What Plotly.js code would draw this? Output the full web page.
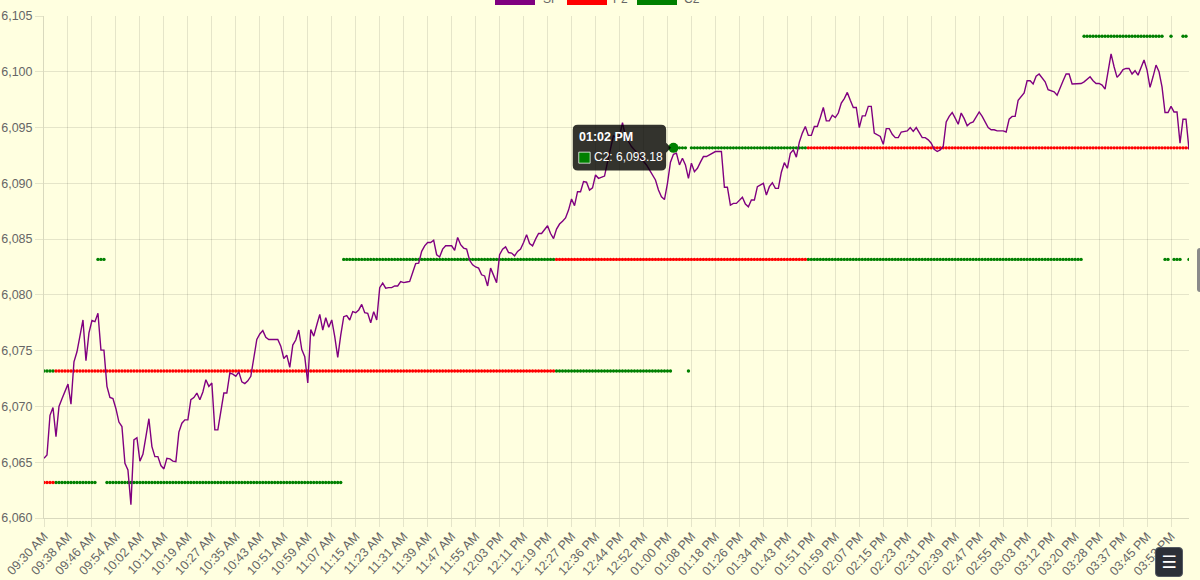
<!DOCTYPE html>
<html><head><meta charset="utf-8">
<script src="https://cdn.plot.ly/plotly-3.0.1.min.js"></script>
<style>
html,body{margin:0;padding:0;background:#FFFFE0;overflow:hidden}
#chart{width:1200px;height:580px}
#menu{position:absolute;left:1155px;top:547px;width:28px;height:30px;background:#2c3038;border:1px solid #555a62;box-sizing:border-box;border-radius:4px;color:#fff;font:17px 'DejaVu Sans',sans-serif;text-align:center;line-height:28px}
#thumb{position:absolute;left:1197px;top:248px;width:6px;height:44px;background:#8a8a8a;border-radius:3px}
</style></head><body>
<div id="chart"></div><div id="menu">☰</div><div id="thumb"></div>
<script>
const tickLabels = ['09:30 AM','09:38 AM','09:46 AM','09:54 AM','10:02 AM','10:11 AM','10:19 AM','10:27 AM','10:35 AM','10:43 AM','10:51 AM','10:59 AM','11:07 AM','11:15 AM','11:23 AM','11:31 AM','11:39 AM','11:47 AM','11:55 AM','12:03 PM','12:11 PM','12:19 PM','12:27 PM','12:36 PM','12:44 PM','12:52 PM','01:00 PM','01:08 PM','01:18 PM','01:26 PM','01:34 PM','01:43 PM','01:51 PM','01:59 PM','02:07 PM','02:15 PM','02:23 PM','02:31 PM','02:39 PM','02:47 PM','02:55 PM','03:03 PM','03:12 PM','03:20 PM','03:28 PM','03:37 PM','03:45 PM','03:53 PM'];
const labelEvery = 8;

const spValues = [
6065.35,6065.65,6069.2,6069.9,6067.3,6070.0,6070.7,6071.3,6072.0,6070.2,
6074.0,6074.9,6076.3,6077.75,6074.1,6076.6,6077.7,6077.6,6078.35,6075.05,
6075.05,6071.8,6070.8,6070.7,6069.8,6068.6,6068.2,6064.9,6064.3,6061.2,
6067.0,6067.2,6065.1,6065.7,6067.3,6068.9,6066.4,6065.5,6065.5,6064.7,
6064.4,6065.35,6065.3,6065.1,6065.05,6067.7,6068.5,6068.8,6068.8,6070.6,
6070.8,6071.2,6070.6,6071.3,6072.4,6071.8,6072.1,6067.9,6067.9,6069.6,
6071.2,6071.2,6073.0,6072.9,6072.7,6073.1,6072.2,6072.05,6072.3,6072.7,
6074.5,6076.0,6076.5,6076.8,6076.2,6076.0,6076.0,6076.0,6076.0,6075.4,
6074.3,6074.6,6073.5,6075.5,6075.95,6076.85,6075.1,6074.45,6072.1,6076.9,
6076.3,6077.3,6078.25,6076.85,6077.95,6077.1,6077.75,6076.25,6074.4,6076.4,
6078.05,6078.15,6077.75,6078.5,6078.4,6078.65,6079.15,6078.4,6078.35,6077.5,
6078.5,6077.75,6080.65,6081.05,6080.6,6080.65,6080.65,6080.8,6080.8,6081.2,
6081.1,6081.15,6081.2,6082.0,6082.8,6082.85,6083.9,6084.4,6084.7,6084.7,
6084.9,6083.6,6083.4,6084.1,6084.4,6084.4,6084.4,6084.0,6085.15,6084.5,
6084.2,6084.1,6083.1,6082.7,6082.5,6082.4,6081.8,6081.7,6080.8,6082.4,
6081.7,6081.1,6083.6,6084.1,6084.3,6083.8,6083.75,6083.5,6083.9,6084.1,
6084.7,6085.4,6084.6,6084.4,6085.0,6085.5,6085.5,6085.8,6086.2,6085.5,
6085.05,6085.9,6086.35,6086.6,6086.9,6087.6,6088.6,6088.0,6089.25,6089.25,
6090.15,6090.1,6089.4,6089.6,6090.75,6090.45,6090.55,6090.65,6091.9,6093.0,
6094.3,6094.0,6094.2,6095.45,6094.2,6093.75,6093.3,6093.0,6092.7,6092.3,
6092.0,6091.65,6091.2,6090.8,6090.3,6089.4,6088.8,6088.55,6090.0,6091.9,
6092.6,6092.7,6091.65,6092.25,6091.65,6090.45,6091.8,6091.05,6091.35,6091.9,
6092.4,6092.4,6092.55,6092.7,6092.85,6092.85,6092.85,6089.65,6089.65,6088.05,
6088.2,6088.2,6088.5,6088.75,6088.15,6087.9,6088.5,6088.5,6089.7,6089.85,
6090.0,6088.95,6089.7,6090.05,6089.55,6089.55,6091.0,6091.85,6091.35,6092.7,
6093.0,6092.35,6093.7,6094.5,6095.1,6094.3,6094.3,6095.1,6095.1,6095.9,
6096.8,6095.6,6095.6,6096.1,6095.9,6096.3,6097.2,6097.6,6098.15,6097.45,
6096.8,6096.8,6095.0,6096.05,6096.05,6096.9,6096.9,6094.5,6094.35,6094.2,
6093.5,6094.9,6094.9,6094.4,6094.1,6094.1,6094.6,6094.65,6094.7,6095.0,
6094.65,6095.0,6094.5,6094.1,6094.1,6093.9,6093.6,6093.05,6092.85,6093.0,
6093.3,6095.5,6096.0,6096.35,6095.85,6095.3,6096.3,6095.8,6095.15,6095.4,
6095.5,6096.0,6096.4,6096.0,6095.5,6095.0,6094.8,6094.8,6094.7,6094.7,
6094.7,6094.6,6095.75,6096.0,6096.0,6097.45,6097.75,6098.1,6099.2,6099.2,
6098.9,6099.6,6099.8,6099.5,6099.1,6098.4,6098.3,6098.2,6097.9,6098.6,
6099.2,6099.8,6099.8,6098.9,6098.9,6098.9,6098.95,6099.1,6099.3,6099.55,
6099.2,6098.95,6098.95,6098.8,6098.45,6100.15,6101.6,6100.45,6099.5,6099.8,
6100.2,6100.3,6100.3,6099.8,6100.1,6099.7,6100.3,6101.05,6100.15,6098.6,
6099.55,6100.6,6100.0,6098.65,6096.35,6096.35,6096.9,6096.4,6096.4,6093.6,
6095.75,6095.75,6093.05];

// Step series stored as runs: level value and number of consecutive points
const p2Levels = [6063.18,6073.18,6083.18,6093.18];
const p2Counts = [4,167,84,128];
const c2Levels = [6073.18,6063.18,6083.18,6063.18,6083.18,6073.18,6093.18,6073.18,6093.18,6083.18,6103.18,6083.18,6103.18,6083.18,6103.18,6083.18];
const c2Counts = [4,14,3,79,71,39,5,1,39,92,27,2,1,3,2,1];

const seriesNames = ['SP','P2','C2'];
const seriesColors = ['purple','red','green'];
const hoverIndex = 210;
const hoverTime = '01:02 PM';

function expandRuns(levels, counts){
  const out = [];
  levels.forEach((v,k)=>{ for(let j=0;j<counts[k];j++) out.push(v); });
  return out;
}
const p2Values = expandRuns(p2Levels, p2Counts);
const c2Values = expandRuns(c2Levels, c2Counts);
const xIdx = spValues.map((_,i)=>i);
const tickIdx = tickLabels.map((_,k)=>k*labelEvery);

const grid = 'rgba(0,0,0,0.1)';
const traces = [
  {x:xIdx, y:c2Values, name:seriesNames[2], type:'scatter', mode:'markers', marker:{color:seriesColors[2], size:3.4}, hoverinfo:'skip'},
  {x:xIdx, y:p2Values, name:seriesNames[1], type:'scatter', mode:'markers', marker:{color:seriesColors[1], size:3.4}, hoverinfo:'skip'},
  {x:xIdx, y:spValues, name:seriesNames[0], type:'scatter', mode:'lines', line:{color:seriesColors[0], width:1.4}, hoverinfo:'skip'},
  {x:[hoverIndex], y:[c2Values[hoverIndex]], type:'scatter', mode:'markers', marker:{color:seriesColors[2], size:10}, hoverinfo:'skip', showlegend:false}
];

// legend (Chart.js style boxes, cut by the top of the canvas)
const W = 1145, H = 502, L = 44, B = 518;
const px = v => (v - L)/W, py = v => (B - v)/H;
const legendBoxes = [495, 567, 637];
const legendText = [541.5, 612, 682.5];
const shapes = [];
const annotations = [];
seriesNames.forEach((n,k)=>{
  shapes.push({type:'rect', xref:'paper', yref:'paper', x0:px(legendBoxes[k]), x1:px(legendBoxes[k]+40), y0:py(5), y1:py(-7), fillcolor:seriesColors[k], line:{width:0}});
  annotations.push({xref:'paper', yref:'paper', x:px(legendText[k]), y:py(6.5), xanchor:'left', yanchor:'bottom', text:n, showarrow:false, borderpad:0, font:{size:12, color:'#666'}});
});

// tooltip anchored at hovered point
const hv = c2Values[hoverIndex];
const Lt=-100.7, Rt=-7.3, Tt=23, Bt=-22.7, r=5;
const boxPath = `M ${Lt+r},${Tt} L ${Rt-r},${Tt} Q ${Rt},${Tt} ${Rt},${Tt-r} L ${Rt},${5} L ${-2.4},0 L ${Rt},${-5} L ${Rt},${Bt+r} Q ${Rt},${Bt} ${Rt-r},${Bt} L ${Lt+r},${Bt} Q ${Lt},${Bt} ${Lt},${Bt+r} L ${Lt},${Tt-r} Q ${Lt},${Tt} ${Lt+r},${Tt} Z`;
shapes.push({type:'path', xref:'x', yref:'y', xsizemode:'pixel', ysizemode:'pixel', xanchor:hoverIndex, yanchor:hv, path:boxPath, fillcolor:'rgba(0,0,0,0.8)', line:{width:0}, layer:'above'});
shapes.push({type:'rect', xref:'x', yref:'y', xsizemode:'pixel', ysizemode:'pixel', xanchor:hoverIndex, yanchor:hv, x0:-94.7, x1:-83.3, y0:-4.3, y1:-15.3, fillcolor:seriesColors[2], line:{color:'rgba(255,255,255,0.75)', width:1}, layer:'above'});
annotations.push({xref:'x', yref:'y', x:hoverIndex, y:hv, xshift:-95, yshift:11, xanchor:'left', yanchor:'middle', showarrow:false, borderpad:0, text:'<b>'+hoverTime+'</b>', font:{size:12.5, color:'#fff'}});
annotations.push({xref:'x', yref:'y', x:hoverIndex, y:hv, xshift:-80.6, yshift:-9, xanchor:'left', yanchor:'middle', showarrow:false, borderpad:0, text:seriesNames[2]+': '+hv.toLocaleString('en-US',{minimumFractionDigits:2}), font:{size:12, color:'#fff'}});

const layout = {
  width:1200, height:580,
  paper_bgcolor:'#FFFFE0', plot_bgcolor:'#FFFFE0',
  margin:{l:44, r:11, t:16, b:62},
  showlegend:false,
  font:{family:'"Liberation Sans", Arial, Helvetica, sans-serif', size:12, color:'#666'},
  xaxis:{range:[0, spValues.length-1], tickmode:'array', tickvals:tickIdx, ticktext:tickLabels, tickangle:-47,
         showgrid:true, gridcolor:grid, gridwidth:1, ticks:'outside', ticklen:8, tickcolor:grid, ticklabelstandoff:-3,
         showline:true, linecolor:'rgba(0,0,0,0.15)', linewidth:1, zeroline:false, fixedrange:true,
         tickfont:{size:12.5, color:'#666'}},
  yaxis:{range:[6060, 6105], tick0:6060, dtick:5, tickformat:',d',
         showgrid:true, gridcolor:grid, gridwidth:1, ticks:'outside', ticklen:8, tickcolor:grid,
         showline:true, linecolor:'rgba(0,0,0,0.15)', linewidth:1, zeroline:false, fixedrange:true,
         tickfont:{size:12.5, color:'#666'}},
  shapes:shapes, annotations:annotations
};
Plotly.newPlot('chart', traces, layout, {displayModeBar:false, staticPlot:true});
</script>
</body></html>
